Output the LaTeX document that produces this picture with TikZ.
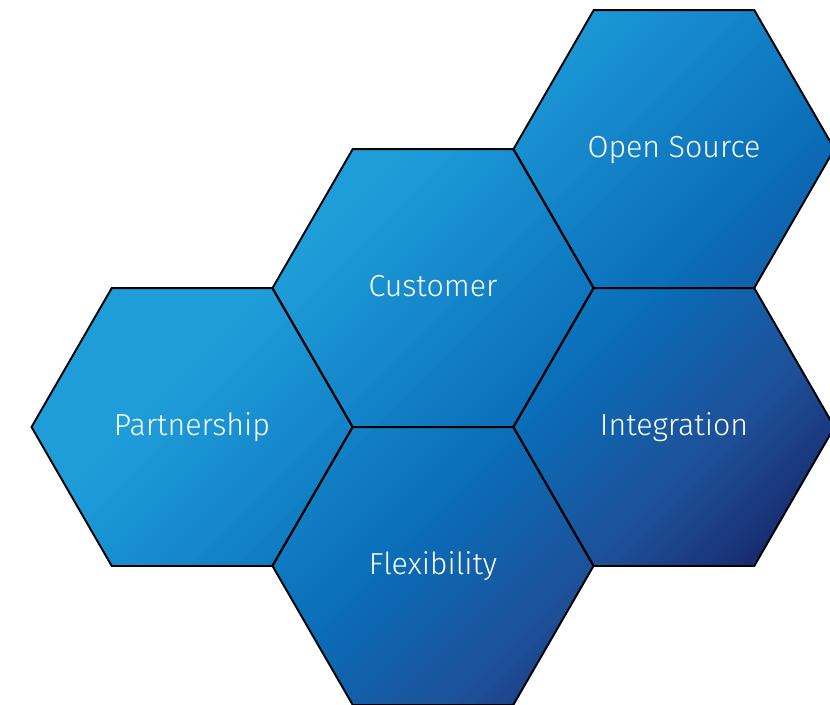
\documentclass[tikz,border=0pt]{standalone}
\usepackage{fontspec}
\setmainfont{Fira Sans}[UprightFont={* Light}]
\usetikzlibrary{shapes.geometric,backgrounds}
\definecolor{gL}{HTML}{1E9DD9}
\definecolor{gM}{HTML}{0A6DB8}
\definecolor{gN}{HTML}{1E4F97}
\definecolor{gD}{HTML}{17276A}
% diagonal gradient strips between t0=x+y and t1=x+y (pixel units)
\newcommand\hexgradseg[4]{%
  \foreach \k in {0,...,39}{%
    \pgfmathsetmacro\ga{#1+(#2-#1)*\k/40}%
    \pgfmathsetmacro\gb{#1+(#2-#1)*(\k+1)/40+1}%
    \pgfmathsetmacro\gp{100*(\k+0.5)/40}%
    \fill[#4!\gp!#3] (\ga+1000,-1000) -- (\ga-1000,1000) -- (\gb-1000,1000) -- (\gb+1000,-1000) -- cycle;
  }%
}
\begin{document}
\begin{tikzpicture}[x=0.02cm,y=-0.02cm,
  hexcell/.style={regular polygon, regular polygon sides=6, minimum size=6.42cm,
    inner sep=0pt, outer sep=0pt, draw=black, line width=1.1pt, line join=miter,
    text=white, text height=12.2pt, text depth=2.2pt,
    font=\fontsize{17.3}{20}\selectfont}]
\useasboundingbox (0,0) rectangle (830,704);
\clip (0,0) rectangle (830,704);
\node[hexcell] (partner) at (192,427) {Partnership};
\node[hexcell] (customer) at (433,288) {Customer};
\node[hexcell] (opensrc) at (674,149) {Open Source};
\node[hexcell] (integr) at (674,427) {Integration};
\node[hexcell] (flex) at (433,566) {Flexibility};
\begin{scope}[on background layer]
  \clip (partner.corner 1) -- (partner.corner 2) -- (partner.corner 3) -- (partner.corner 4) -- (partner.corner 5) -- (partner.corner 6) -- cycle
        (customer.corner 1) -- (customer.corner 2) -- (customer.corner 3) -- (customer.corner 4) -- (customer.corner 5) -- (customer.corner 6) -- cycle
        (opensrc.corner 1) -- (opensrc.corner 2) -- (opensrc.corner 3) -- (opensrc.corner 4) -- (opensrc.corner 5) -- (opensrc.corner 6) -- cycle
        (integr.corner 1) -- (integr.corner 2) -- (integr.corner 3) -- (integr.corner 4) -- (integr.corner 5) -- (integr.corner 6) -- cycle
        (flex.corner 1) -- (flex.corner 2) -- (flex.corner 3) -- (flex.corner 4) -- (flex.corner 5) -- (flex.corner 6) -- cycle;
  \fill[gL] (-1500,-1000) -- (-1500,2000) -- (561-2000,2000) -- (561+1000,-1000) -- cycle;
  \hexgradseg{560}{950}{gL}{gM}
  \hexgradseg{950}{1170}{gM}{gN}
  \hexgradseg{1170}{1340}{gN}{gD}
  \fill[gD] (1340+1000,-1000) -- (1340-1000,1000) -- (2500,1000) -- (2500,-1000) -- cycle;
\end{scope}
\end{tikzpicture}
\end{document}
